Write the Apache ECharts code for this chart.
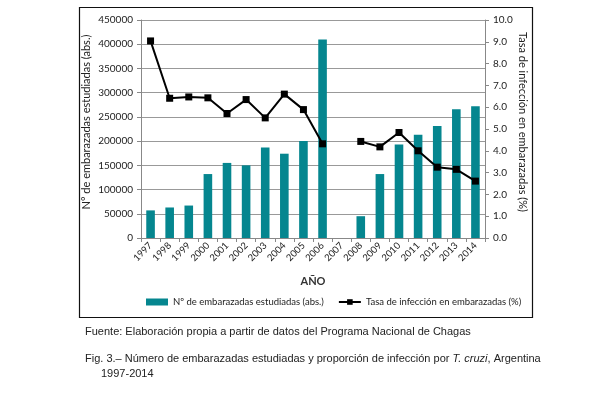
<!DOCTYPE html>
<html>
<head>
<meta charset="utf-8">
<script src="https://cdn.jsdelivr.net/npm/echarts@6/dist/echarts.min.js"></script>
<style>
  html, body { margin: 0; padding: 0; background: #fff; }
  #chart { width: 592px; height: 396px; }
</style>
</head>
<body>
<div id="chart"></div>
<script>
const years = ['1997', '1998', '1999', '2000', '2001', '2002', '2003', '2004', '2005',
  '2006', '2007', '2008', '2009', '2010', '2011', '2012', '2013', '2014'];
const estudiadas = [57000, 63000, 67000, 132000, 155000, 150000, 187000, 174000, 200000,
  410000, null, 45000, 132000, 193000, 213000, 231000, 266000, 272000];
const tasa = [9.04, 6.41, 6.47, 6.43, 5.71, 6.35, 5.51, 6.6, 5.89,
  4.32, null, 4.43, 4.18, 4.84, 4.0, 3.25, 3.15, 2.61];
const leftTicks = [0, 450000, 50000];
const rightTicks = [0, 10, 1];

const chart = echarts.init(document.getElementById('chart'));
const font = 'Lato, "Open Sans", sans-serif';
const capFont = '"Liberation Sans", Arial, sans-serif';

chart.setOption({
  animation: false,
  textStyle: { fontFamily: font },
  grid: { left: 141, right: 107, top: 20, bottom: 158 },
  legend: {
    bottom: 84,
    left: 141,
    itemGap: 14,
    itemWidth: 22,
    itemHeight: 7,
    textStyle: { fontSize: 9.5, color: '#222', fontFamily: font },
    data: [
      { name: 'Nº de embarazadas estudiadas (abs.)', icon: 'rect' },
      { name: 'Tasa de infección en embarazadas (%)' },
    ],
  },
  xAxis: {
    type: 'category',
    data: years,
    name: 'AÑO',
    nameLocation: 'middle',
    nameGap: 38,
    nameTextStyle: { fontSize: 11, fontWeight: 'bold', color: '#333' },
    axisLine: { lineStyle: { color: '#888' } },
    axisTick: { show: true, length: 4, lineStyle: { color: '#888' } },
    axisLabel: { rotate: 45, fontSize: 9.5, color: '#222', margin: 6, interval: 0 },
  },
  yAxis: [
    {
      type: 'value',
      min: leftTicks[0],
      max: leftTicks[1],
      interval: leftTicks[2],
      name: 'N° de embarazadas estudiadas (abs.)',
      nameLocation: 'middle',
      nameGap: 49,
      nameMoveOverlap: false,
      nameTextStyle: { fontSize: 11, color: '#222', padding: [0, 0, 0, 14] },
      axisLine: { show: true, lineStyle: { color: '#888' } },
      axisTick: { show: true, length: 4, lineStyle: { color: '#888' } },
      axisLabel: { fontSize: 10, color: '#222', margin: 8, formatter: v => String(v) },
      splitLine: { lineStyle: { color: '#999' } },
    },
    {
      type: 'value',
      min: rightTicks[0],
      max: rightTicks[1],
      interval: rightTicks[2],
      name: 'Tasa de infección en embarazadas (%)',
      nameLocation: 'middle',
      nameGap: 32,
      nameMoveOverlap: false,
      nameRotate: -90,
      nameTextStyle: { fontSize: 11, color: '#222', padding: [0, 14, 0, 0] },
      axisLine: { show: true, lineStyle: { color: '#888' } },
      axisTick: { show: true, length: 4, lineStyle: { color: '#888' } },
      axisLabel: { fontSize: 10, color: '#222', margin: 8, formatter: v => v.toFixed(1) },
      splitLine: { show: false },
    },
  ],
  series: [
    {
      name: 'Nº de embarazadas estudiadas (abs.)',
      type: 'bar',
      data: estudiadas,
      barWidth: '45%',
      itemStyle: { color: '#05868F' },
    },
    {
      name: 'Tasa de infección en embarazadas (%)',
      type: 'line',
      yAxisIndex: 1,
      data: tasa,
      connectNulls: false,
      symbol: 'rect',
      symbolSize: 7,
      lineStyle: { color: '#000', width: 2 },
      itemStyle: { color: '#000' },
    },
  ],
  title: [
    {
      text: 'Fuente: Elaboración propia a partir de datos del Programa Nacional de Chagas',
      left: 80,
      top: 321,
      textStyle: { fontSize: 11, fontWeight: 'normal', color: '#222', fontFamily: capFont },
    },
    {
      text: 'Fig. 3.– Número de embarazadas estudiadas y proporción de infección por {i|T. cruzi}, Argentina',
      left: 80,
      top: 348,
      textStyle: {
        fontSize: 11, fontWeight: 'normal', color: '#222', fontFamily: capFont,
        rich: { i: { fontSize: 11, fontStyle: 'italic', color: '#222', fontFamily: capFont } },
      },
    },
    {
      text: '1997-2014',
      left: 96,
      top: 363,
      textStyle: { fontSize: 11, fontWeight: 'normal', color: '#222', fontFamily: capFont },
    },
  ],
  graphic: [
    {
      type: 'rect',
      shape: { x: 79.5, y: 7.5, width: 453, height: 310 },
      style: { fill: 'none', stroke: '#111', lineWidth: 1.2 },
      silent: true,
      z: -1,
    },
  ],
});
</script>
</body>
</html>
